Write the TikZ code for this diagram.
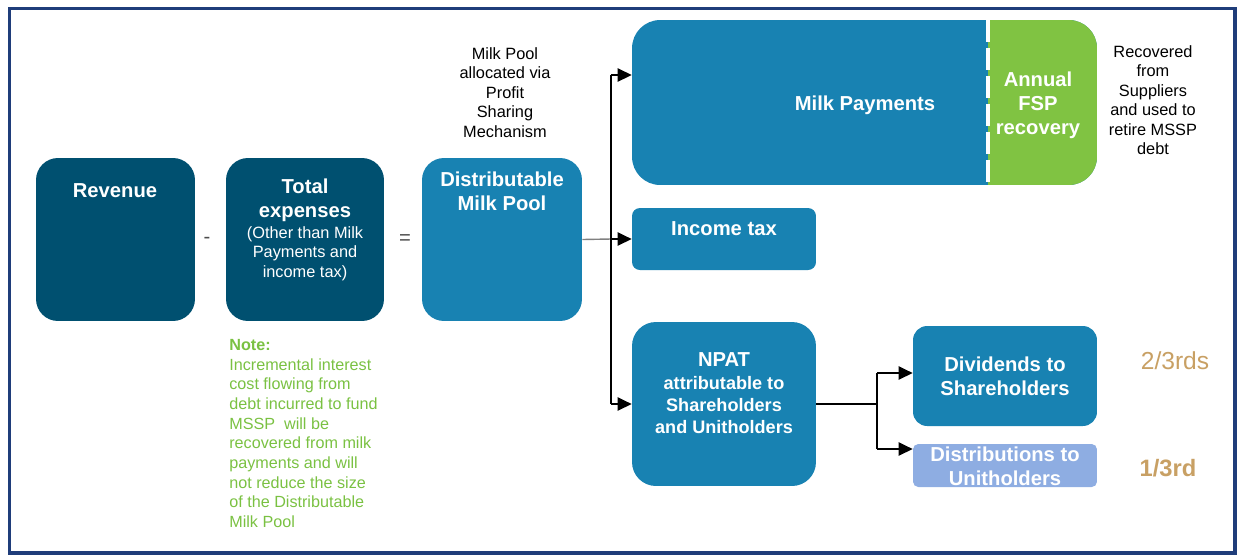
\documentclass[tikz,border=0pt]{standalone}
\usepackage{fontspec}
\setmainfont{Liberation Sans}
\usepackage{xcolor}
\usetikzlibrary{arrows.meta}

\definecolor{boxdark}{RGB}{0,80,112}
\definecolor{boxmid}{RGB}{24,130,178}
\definecolor{boxgreen}{RGB}{128,195,66}
\definecolor{boxlight}{RGB}{142,173,226}
\definecolor{notegreen}{RGB}{122,193,66}
\definecolor{sharetan}{RGB}{200,160,100}
\definecolor{framenavy}{RGB}{31,61,122}

\begin{document}
\begin{tikzpicture}[x=0.02cm,y=-0.02cm]
  \tikzset{card/.style = {shape=rectangle, inner sep=0pt, rounded corners=12.5pt, minimum width=3.18cm, minimum height=3.26cm}}
  \tikzset{cardtext/.style = {inner sep=0pt, align=center, text=white, font=\fontsize{11.5}{13.8}\selectfont\bfseries}}
  \tikzset{smalltext/.style = {inner sep=0pt, align=center, font=\fontsize{9.3}{11.1}\selectfont}}
  \tikzset{wire/.style = {line width=1.2pt}}
  \tikzset{link/.style = {line width=1.2pt, -{Triangle[length=8pt,width=7.5pt]}}}

  \useasboundingbox (0,0) rectangle (1242,559);
  \draw[framenavy, line width=2pt] (9.5,8.5) rectangle (1235,553);

  \node[card, fill=boxdark] (rev) at (115.5,239.5) {};
  \node[card, fill=boxdark, minimum width=3.16cm] (tot) at (305,239.5) {};
  \node[card, fill=boxmid, minimum width=3.2cm] (dmp) at (502,239.5) {};

  \node[card, fill=boxmid, rounded corners=16pt, minimum width=9.3cm, minimum height=3.3cm] (mp) at (864.5,102.5) {};
  \node[card, fill=boxgreen, rounded corners=16pt, minimum width=2.18cm, minimum height=3.3cm] (fsp) at (1042.5,102.5) {};
  \fill[boxgreen] (988,20) rectangle (1030,185);
  \draw[white, line width=2.3pt, dash pattern=on 12.5pt off 3.4pt] (988,20) -- (988,185);

  \node[card, fill=boxmid, rounded corners=4.5pt, minimum width=3.68cm, minimum height=1.24cm] (tax) at (724,239) {};
  \node[card, fill=boxmid, rounded corners=13.6pt, minimum width=3.68cm, minimum height=3.28cm] (npat) at (724,404) {};
  \node[card, fill=boxmid, rounded corners=8pt, minimum width=3.68cm, minimum height=2cm] (div) at (1005,376) {};
  \node[card, fill=boxlight, rounded corners=3pt, minimum width=3.68cm, minimum height=0.86cm] (dist) at (1005,465.5) {};

  \node[cardtext, anchor=base] (revtext) at (115,197) {Revenue};
  \node[cardtext, anchor=north] (tothead) at (305,178) {Total\\expenses};
  \node[smalltext, anchor=north, text=white] (totnote) at (305,226) {(Other than Milk\\Payments and\\income tax)};
  \node[cardtext, anchor=north] (dmptext) at (502,171) {Distributable\\Milk Pool};
  \node[cardtext, anchor=base] (mptext) at (865,110) {Milk Payments};
  \node[cardtext, anchor=north] (fsptext) at (1038,71) {Annual\\FSP\\recovery};
  \node[cardtext, anchor=base] (taxtext) at (724,235) {Income tax};
  \node[cardtext, anchor=base] (npathead) at (724,366) {NPAT};
  \node[cardtext, anchor=north, font=\fontsize{10.3}{12.5}\selectfont\bfseries] (npatnote) at (724,376) {attributable to\\Shareholders\\and Unitholders};
  \node[cardtext, anchor=north] (divtext) at (1005,356) {Dividends to\\Shareholders};
  \node[cardtext, anchor=north] (disttext) at (1005,446) {Distributions to\\Unitholders};

  \node[font=\fontsize{11.5}{13.8}\selectfont, text=black!70] (minus) at (207,240) {-};
  \node[font=\fontsize{11.5}{13.8}\selectfont, text=black!70] (equals) at (405,240) {=};

  \node[smalltext, anchor=north] (pooltext) at (505,47) {Milk Pool\\allocated via\\Profit\\Sharing\\Mechanism};
  \node[smalltext, anchor=north] (rectext) at (1153,45) {Recovered\\from\\Suppliers\\and used to\\retire MSSP\\debt};
  \node[smalltext, anchor=north west, align=left, text=notegreen, font=\fontsize{9.2}{11.2}\selectfont] (note) at (229,339) {\textbf{Note:}\\Incremental interest\\cost flowing from\\debt incurred to fund\\MSSP\ \ will be\\recovered from milk\\payments and will\\not reduce the size\\of the Distributable\\Milk Pool};

  \node[anchor=base, text=sharetan, font=\fontsize{14}{16}\selectfont] (twothirds) at (1175,369) {2/3rds};
  \node[anchor=base, text=sharetan, font=\fontsize{13.5}{16}\selectfont\bfseries] (onethird) at (1168,476) {1/3rd};

  \coordinate (top) at (611,75);
  \coordinate (split) at (611,239);
  \coordinate (bot) at (611,404);
  \coordinate (fork) at (877,404);
  \coordinate (forkA) at (877,373);
  \coordinate (forkB) at (877,449);

  \draw[gray, line width=0.8pt] (dmp.east) -- (split);
  \draw[wire] (top) -- (bot);
  \draw[wire] (npat.east) -- (fork);
  \draw[wire] (forkA) -- (forkB);

  \foreach \from/\to in {top/mp, split/tax, bot/npat, forkA/div, forkB/dist}
    \draw[link] (\from) -- (\from -| \to.west);

\end{tikzpicture}
\end{document}
